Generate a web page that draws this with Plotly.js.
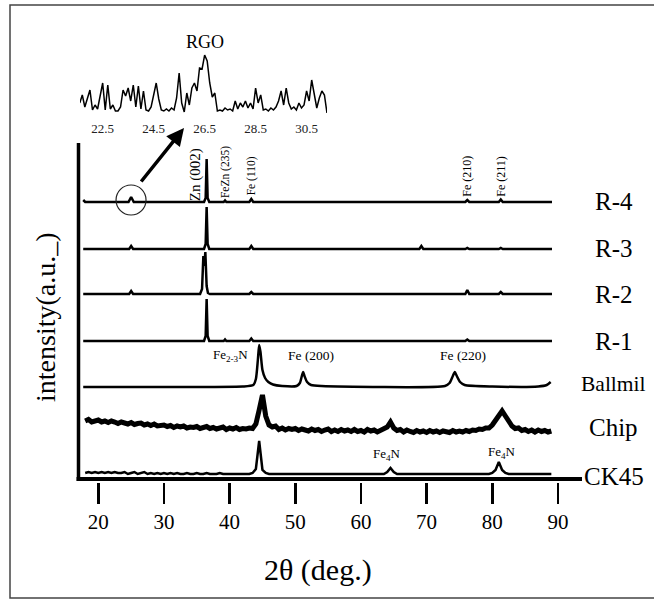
<!DOCTYPE html>
<html>
<head>
<meta charset="utf-8">
<script src="https://cdn.plot.ly/plotly-3.0.1.min.js"></script>
<style>html,body{margin:0;padding:0;background:#fff;}#chart{width:654px;height:600px;}</style>
</head>
<body>
<div id="chart"></div>
<script>
// ---------- data ----------
const seriesNames = ["R-4", "R-3", "R-2", "R-1", "Ballmil", "Chip", "CK45"];
// vertical stacking offset of each pattern (a.u.)
const stackOffsets = [280, 233, 188, 141, 95, 0, 0];

const r4X = [17.7, 18.0, 24.6, 25.0, 25.4, 36.1, 36.35, 36.5, 36.65, 36.9, 39.1, 39.3, 39.5, 43.0, 43.3, 43.6, 75.9, 76.2, 76.5, 81.0, 81.3, 81.6, 89.1];
const r4Y = [2, 0, 0, 5, 0, 0, 4, 43, 4, 0, 0, 1.5, 0, 0, 3, 0, 0, 2, 0, 0, 2.5, 0, 0];

const r3X = [17.7, 24.7, 25.0, 25.3, 36.1, 36.35, 36.5, 36.65, 36.9, 43.0, 43.3, 43.6, 68.9, 69.2, 69.5, 75.9, 76.2, 76.5, 81.0, 81.3, 81.6, 89.1];
const r3Y = [0, 0, 3, 0, 0, 5, 42, 5, 0, 0, 3, 0, 0, 3, 0, 0, 1, 0, 0, 1, 0, 0];

const r2X = [17.7, 24.7, 25.0, 25.3, 35.5, 35.8, 36.0, 36.15, 36.3, 36.5, 36.7, 37.0, 43.0, 43.3, 43.6, 75.9, 76.2, 76.5, 81.0, 81.3, 81.6, 89.1];
const r2Y = [0, 0, 3, 0, 0, 5, 38, 28, 42, 8, 1, 0, 0, 2, 0, 0, 4, 0, 0, 2, 0, 0];

const r1X = [17.7, 36.1, 36.35, 36.5, 36.65, 36.9, 39.1, 39.3, 39.5, 43.0, 43.3, 43.6, 75.9, 76.2, 76.5, 89.1];
const r1Y = [0, 0, 5, 42, 5, 0, 0, 1.5, 0, 0, 2.5, 0, 0, 1.5, 0, 0];

const ballX = [17.7, 30, 42, 43.6, 44.0, 44.3, 44.5, 44.7, 45.0, 45.4, 45.9, 46.6, 48, 50.2, 50.7, 51.0, 51.2, 51.4, 51.8, 52.4, 54, 72.8, 73.5, 74.0, 74.3, 74.6, 75.1, 75.8, 80, 87, 88.3, 88.9];
const ballY = [0, 0, 0.5, 2, 8, 27, 42, 35, 17, 9, 5, 2.5, 1, 1, 4, 11, 15, 11, 5, 2, 1, 1, 4, 11, 15, 11, 5, 2, 0.5, 0.5, 2, 5];

// Chip and CK45: sampled every 0.5 deg from 18.0 to 89.0
const scanStart = 18.0;
const scanStep = 0.5;
const chipY = [61,62.5,60,61.5,62,60,61,59.5,61,60,
  58.5,60,59.5,58,59.5,57.5,58.5,59,57,58,
  56.5,58,56,56.5,57,55.5,56.5,54.5,56,55,
  56,54,55,54.5,55.5,53.5,54.5,55.5,53.5,54.5,
  53,54,55,52.5,54,53,54.5,52.5,53.5,53,
  54,53.5,58,72,87,66,57,55,56,52.5,
  54,52,53.5,52.5,53.5,51.5,53,52,51,53,
  51.5,52.5,50.5,52,53,50.5,52,50.5,52.5,51,
  52,50.5,52.5,50.5,51.5,50,52.5,51,52,50,
  52,53,55,60,54,51.5,52.5,50,52,50.5,
  49.5,51.5,50,51,49.5,51.5,50,51,49.5,51,
  50.5,49.5,51.5,50,51,50,51.5,50.5,52,51.5,
  53,52.5,54,54,57,62,68,71,66,60,
  56,53.5,54,51.5,52.5,50.5,52,50,52,50.5,
  51.5,50,51];
const ck45Y = [9,10,9,10,9,10,9,10,9,10,9,9,10,8,9,10,8,9,10,8,
  9,8,9,8,9,8,9,8,9,8,8,9,8,8,9,8,8,9,8,8,
  8,9,8,8,8,8,8,8,8,8,8,9,13,41,12,9,8,8,8,8,
  8,8,8,8,8,8,8,8,8,8,8,8,8,8,8,8,8,8,8,8,
  8,8,8,8,8,8,8,8,8,8,8,8,10,14,10,8,8,8,8,8,
  8,8,8,8,8,8,8,8,8,8,8,8,8,8,8,8,8,8,8,8,
  8,8,8,8,9,12,20,12,9,8,8,8,8,8,8,8,8,8,8,8,
  8,8,8];

// RGO inset, sampled every 0.1 deg from 21.6
const rgoStart = 21.6;
const rgoStep = 0.1;
const rgoY = [10,18,6,15,23,3,8,4,17,30,3,28,4,8,2,2,6,23,17,25,
  12,28,6,27,4,22,3,2,6,19,30,14,3,2,4,2,5,3,15,40,
  10,1,20,8,25,30,22,45,44,58,52,30,16,20,2,3,2,5,3,4,
  2,12,4,10,6,12,5,10,4,25,10,18,3,4,2,5,3,6,12,22,
  8,25,10,4,6,3,10,5,8,22,12,33,20,5,15,22,18,0];

const xTicks = [20, 30, 40, 50, 60, 70, 80, 90];
const rgoTicks = [22.5, 24.5, 26.5, 28.5, 30.5];

// ---------- chart ----------
const K = '#000';
const serif = 'Liberation Serif, Times New Roman, serif';
function shift(arr, off) { return arr.map(v => v + off); }

const traces = [
  {x: r4X, y: shift(r4Y, stackOffsets[0]), name: seriesNames[0], line: {width: 2.5}},
  {x: r3X, y: shift(r3Y, stackOffsets[1]), name: seriesNames[1], line: {width: 2.5}},
  {x: r2X, y: shift(r2Y, stackOffsets[2]), name: seriesNames[2], line: {width: 2.5}},
  {x: r1X, y: shift(r1Y, stackOffsets[3]), name: seriesNames[3], line: {width: 2.5}},
  {x: ballX, y: shift(ballY, stackOffsets[4]), name: seriesNames[4], line: {width: 2.5, shape: 'spline', smoothing: 0.6}},
  {x0: scanStart, dx: scanStep, y: shift(chipY, stackOffsets[5]), name: seriesNames[5], line: {width: 5}},
  {x0: scanStart, dx: scanStep, y: shift(ck45Y, stackOffsets[6]), name: seriesNames[6], line: {width: 2.5}},
  {x0: rgoStart, dx: rgoStep, y: rgoY, name: 'RGO', xaxis: 'x2', yaxis: 'y2', line: {width: 1.5}}
].map(t => Object.assign({type: 'scatter', mode: 'lines', hoverinfo: 'skip'}, t, {line: Object.assign({color: K}, t.line)}));

function lab(text, x, y, size, extra) {
  return Object.assign({text: text, x: x, y: y, xref: 'x', yref: 'y', showarrow: false,
    xanchor: 'center', yanchor: 'middle',
    font: {family: serif, size: size, color: K}}, extra || {});
}
const rightX = 1.063;
const annotations = [
  lab('R-4', rightX, 281, 25, {xref: 'paper'}), lab('R-3', rightX, 234, 25, {xref: 'paper'}),
  lab('R-2', rightX, 188, 25, {xref: 'paper'}), lab('R-1', rightX, 141, 25, {xref: 'paper'}),
  lab('Ballmil', rightX, 98, 21.5, {xref: 'paper'}), lab('Chip', rightX, 55, 25, {xref: 'paper'}),
  lab('CK45', rightX, 6, 25, {xref: 'paper'}),
  lab('Zn (002)', 34.75, 307, 15, {textangle: -90}),
  lab('FeZn (235)', 39.3, 310, 11.5, {textangle: -90}),
  lab('Fe (110)', 43.3, 306, 11.5, {textangle: -90}),
  lab('Fe (210)', 76.1, 306, 12, {textangle: -90}),
  lab('Fe (211)', 81.3, 306, 12, {textangle: -90}),
  lab('Fe<sub>2-3</sub>N', 40.2, 127, 13),
  lab('Fe (200)', 52.4, 127, 13.5),
  lab('Fe (220)', 75.5, 127, 13.5),
  lab('Fe<sub>4</sub>N', 64.0, 28, 13),
  lab('Fe<sub>4</sub>N', 81.5, 30, 13),
  lab('RGO', 0.2564, 0.9735, 18, {xref: 'paper', yref: 'paper'}),
  {text: '', xref: 'paper', yref: 'paper', x: 0.215, y: 0.7832, ax: -44, ay: 55,
   showarrow: true, arrowhead: 2, arrowsize: 1, arrowwidth: 3.5, arrowcolor: K},
  lab('2θ (deg.)', 0.479, -0.1947, 30, {xref: 'paper', yref: 'paper'}),
  lab('intensity(a.u._)', -0.0592, 0.365, 28, {xref: 'paper', yref: 'paper', textangle: -90})
];

const shapes = [
  // figure frame
  {type: 'rect', xref: 'paper', yref: 'paper', x0: -0.1282, x1: 1.16, y0: -0.2566, y1: 1.0553,
   line: {color: '#444', width: 1.5}},
  // x axis line
  {type: 'line', xref: 'paper', yref: 'y', x0: 0.003, x1: 1, y0: 3, y1: 3, line: {color: K, width: 4}},
  // y axis line
  {type: 'line', xref: 'paper', yref: 'y', x0: 0.0069, x1: 0.0069, y0: 1, y1: 339, line: {color: K, width: 3.5}},
  // circle around RGO peak
  {type: 'circle', xref: 'x', yref: 'y', x0: 22.70, x1: 27.27, y0: 267, y1: 297, line: {color: '#222', width: 1.2}}
];

const layout = {
  width: 654, height: 600,
  margin: {l: 75, r: 72, t: 30, b: 118},
  paper_bgcolor: '#fff', plot_bgcolor: 'rgba(0,0,0,0)',
  showlegend: false,
  font: {family: serif, color: K},
  xaxis: {range: [16.45, 93.67], domain: [0, 1], showline: false, showgrid: false, zeroline: false,
    tickvals: xTicks, ticks: 'outside', ticklen: 21, tickwidth: 2.5, tickcolor: K,
    ticklabelstandoff: 0, tickfont: {family: serif, size: 21, color: K}, anchor: 'y'},
  yaxis: {range: [0, 339], domain: [0, 0.75], visible: false, anchor: 'x'},
  xaxis2: {range: [21.61, 31.30], domain: [0.00986, 0.497], anchor: 'y2', showline: false, showgrid: false,
    zeroline: false, tickvals: rgoTicks, ticktext: rgoTicks.map(v => v.toFixed(1)), ticks: '',
    ticklabelstandoff: 6, tickfont: {family: serif, size: 13, color: '#222'}},
  yaxis2: {range: [0, 61], domain: [0.8164, 0.9513], anchor: 'x2', visible: false},
  annotations: annotations,
  shapes: shapes
};

Plotly.newPlot('chart', traces, layout, {staticPlot: true, displayModeBar: false});
</script>
</body>
</html>
